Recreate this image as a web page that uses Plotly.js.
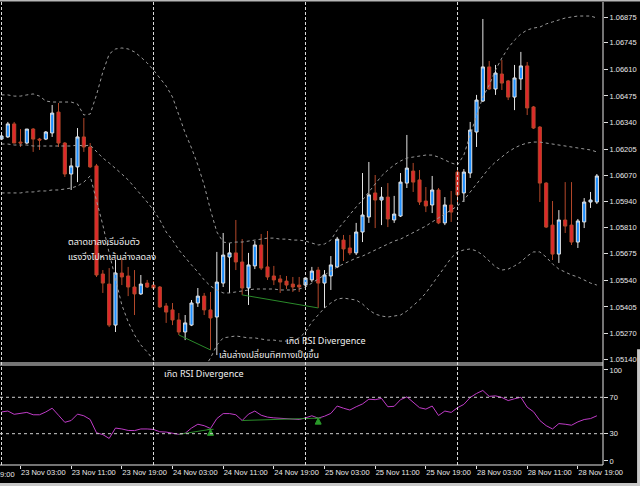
<!DOCTYPE html>
<html><head><meta charset="utf-8">
<script src="https://cdn.plot.ly/plotly-3.0.1.min.js"></script>
<style>html,body{margin:0;padding:0;background:#000;}#chart{width:640px;height:486px;}</style>
</head><body><div id="chart"></div>
<script>
// EURUSD-style H1 candles, 23 Nov 00:00 .. 28 Nov 22:00
const openP = [1.06256,1.06267,1.06333,1.06241,1.06236,1.06307,1.06256,1.06256,1.06287,1.06393,
1.06236,1.06079,1.06115,1.06267,1.06216,1.06120,1.05572,1.05521,1.05313,1.05577,
1.05562,1.05506,1.05471,1.05526,1.05516,1.05506,1.05410,1.05390,1.05339,1.05278,
1.05313,1.05425,1.05460,1.05390,1.05354,1.05526,1.05658,1.05679,1.05633,1.05501,
1.05613,1.05719,1.05608,1.05562,1.05547,1.05536,1.05521,1.05516,1.05516,1.05542,
1.05592,1.05526,1.05562,1.05608,1.05744,1.05704,1.05679,1.05785,1.05861,1.05983,
1.05947,1.05962,1.05846,1.05866,1.06033,1.06094,1.06049,1.05942,1.05922,1.05998,
1.05831,1.05922,1.06089,1.05983,1.06084,1.06292,1.06449,1.06622,1.06510,1.06586,
1.06551,1.06469,1.06561,1.06627,1.06419,1.06317,1.06033,1.05820,1.05673,1.05846,
1.05820,1.05734,1.05836,1.05937,1.05937];
const highP = [1.06282,1.06343,1.06343,1.06307,1.06307,1.06312,1.06262,1.06297,1.06429,1.06439,
1.06241,1.06160,1.06312,1.06363,1.06236,1.06130,1.05592,1.05602,1.05643,1.05653,
1.05608,1.05592,1.05567,1.05542,1.05536,1.05511,1.05425,1.05425,1.05374,1.05364,
1.05440,1.05501,1.05476,1.05481,1.05684,1.05780,1.05729,1.05846,1.05749,1.05679,
1.05739,1.05775,1.05790,1.05613,1.05567,1.05562,1.05557,1.05557,1.05557,1.05608,
1.05608,1.05592,1.05663,1.05760,1.05770,1.05770,1.05831,1.06084,1.06140,1.06074,
1.06013,1.06033,1.05968,1.06084,1.06277,1.06135,1.06099,1.06013,1.06069,1.06008,
1.05962,1.05993,1.06104,1.06104,1.06343,1.06480,1.06865,1.06652,1.06632,1.06657,
1.06556,1.06632,1.06698,1.06647,1.06424,1.06322,1.06038,1.05942,1.05896,1.06038,
1.06038,1.05851,1.05957,1.05988,1.06079];
const lowP = [1.06251,1.06262,1.06236,1.06216,1.06231,1.06191,1.06201,1.06251,1.06267,1.06216,
1.06064,1.05998,1.06038,1.06191,1.06109,1.05557,1.05476,1.05303,1.05278,1.05516,
1.05460,1.05364,1.05466,1.05501,1.05491,1.05400,1.05324,1.05313,1.05263,1.05237,
1.05308,1.05405,1.05364,1.05187,1.05161,1.05506,1.05476,1.05592,1.05466,1.05415,
1.05597,1.05592,1.05542,1.05516,1.05476,1.05496,1.05481,1.05481,1.05506,1.05531,
1.05400,1.05400,1.05491,1.05602,1.05638,1.05668,1.05668,1.05734,1.05831,1.05805,
1.05820,1.05810,1.05831,1.05861,1.06008,1.05988,1.05922,1.05886,1.05881,1.05825,
1.05820,1.05836,1.05937,1.05937,1.06059,1.06216,1.06444,1.06505,1.06480,1.06505,
1.06454,1.06403,1.06505,1.06378,1.06307,1.05937,1.05805,1.05643,1.05628,1.05780,
1.05719,1.05704,1.05805,1.05907,1.05927];
const closeP = [1.06272,1.06333,1.06236,1.06236,1.06307,1.06256,1.06251,1.06292,1.06388,1.06236,
1.06079,1.06120,1.06267,1.06216,1.06115,1.05567,1.05526,1.05313,1.05577,1.05557,
1.05506,1.05471,1.05521,1.05506,1.05501,1.05405,1.05379,1.05339,1.05278,1.05324,
1.05425,1.05460,1.05390,1.05349,1.05531,1.05668,1.05679,1.05633,1.05501,1.05618,
1.05719,1.05602,1.05557,1.05542,1.05531,1.05516,1.05506,1.05506,1.05552,1.05587,
1.05526,1.05567,1.05618,1.05749,1.05699,1.05679,1.05785,1.05871,1.05973,1.05947,
1.05962,1.05851,1.05876,1.06038,1.06109,1.06038,1.05937,1.05917,1.05998,1.05831,
1.05922,1.05886,1.05973,1.06089,1.06302,1.06454,1.06622,1.06510,1.06591,1.06540,
1.06469,1.06566,1.06627,1.06414,1.06312,1.06033,1.05810,1.05673,1.05846,1.05815,
1.05734,1.05841,1.05937,1.05947,1.06069];

// Bollinger bands
const bbUpper = [1.06480,1.06480,1.06474,1.06474,1.06480,1.06485,1.06474,1.06449,1.06444,1.06444,
1.06444,1.06444,1.06434,1.06378,1.06383,1.06480,1.06596,1.06687,1.06713,1.06718,
1.06713,1.06698,1.06672,1.06642,1.06606,1.06566,1.06525,1.06469,1.06378,1.06287,
1.06211,1.06125,1.06023,1.05896,1.05785,1.05734,1.05729,1.05734,1.05734,1.05739,
1.05744,1.05749,1.05754,1.05754,1.05749,1.05749,1.05744,1.05744,1.05739,1.05729,
1.05719,1.05724,1.05744,1.05795,1.05836,1.05876,1.05912,1.05947,1.05988,1.06033,
1.06069,1.06099,1.06125,1.06145,1.06160,1.06165,1.06170,1.06175,1.06175,1.06165,
1.06150,1.06135,1.06125,1.06175,1.06277,1.06378,1.06469,1.06530,1.06606,1.06667,
1.06718,1.06758,1.06789,1.06809,1.06819,1.06824,1.06840,1.06850,1.06860,1.06870,
1.06875,1.06880,1.06880,1.06880,1.06870];
const bbMiddle = [1.06231,1.06231,1.06226,1.06226,1.06226,1.06221,1.06221,1.06221,1.06221,1.06221,
1.06221,1.06221,1.06226,1.06221,1.06226,1.06191,1.06160,1.06135,1.06109,1.06079,
1.06049,1.06013,1.05973,1.05937,1.05896,1.05846,1.05785,1.05744,1.05694,1.05653,
1.05618,1.05582,1.05542,1.05511,1.05491,1.05476,1.05476,1.05481,1.05486,1.05491,
1.05496,1.05496,1.05496,1.05496,1.05491,1.05491,1.05491,1.05496,1.05506,1.05526,
1.05547,1.05567,1.05587,1.05608,1.05623,1.05638,1.05653,1.05663,1.05679,1.05694,
1.05709,1.05724,1.05739,1.05749,1.05765,1.05785,1.05800,1.05815,1.05836,1.05856,
1.05876,1.05896,1.05917,1.05947,1.05988,1.06028,1.06069,1.06109,1.06140,1.06165,
1.06191,1.06211,1.06226,1.06236,1.06241,1.06241,1.06236,1.06231,1.06226,1.06221,
1.06216,1.06211,1.06206,1.06201,1.06191];
const bbLower = [1.05983,1.05983,1.05983,1.05983,1.05988,1.05988,1.05993,1.05993,1.05998,1.05998,
1.06003,1.06008,1.06018,1.06038,1.06069,1.05947,1.05820,1.05679,1.05542,1.05415,
1.05329,1.05263,1.05212,1.05177,1.05136,1.05085,1.05045,1.05019,1.05009,1.05019,
1.05035,1.05060,1.05095,1.05146,1.05212,1.05248,1.05253,1.05258,1.05253,1.05248,
1.05248,1.05242,1.05237,1.05237,1.05232,1.05232,1.05237,1.05248,1.05278,1.05329,
1.05364,1.05400,1.05425,1.05445,1.05450,1.05445,1.05440,1.05420,1.05390,1.05369,
1.05359,1.05354,1.05359,1.05364,1.05384,1.05410,1.05440,1.05476,1.05521,1.05562,
1.05613,1.05653,1.05684,1.05694,1.05699,1.05689,1.05668,1.05638,1.05608,1.05592,
1.05597,1.05613,1.05633,1.05663,1.05684,1.05684,1.05658,1.05623,1.05597,1.05582,
1.05567,1.05557,1.05542,1.05526,1.05516];

// RSI values
const rsi = [53.9,54.9,51.3,52.3,53.4,50.8,50.8,53.9,58.0,50.3,
42.5,44.5,51.5,49.7,45.6,31.0,29.0,24.8,36.2,35.2,
33.6,33.4,35.2,35.2,34.7,32.1,31.8,30.5,29.3,30.5,
36.2,40.4,38.8,35.7,46.6,52.1,52.1,50.8,44.5,51.5,
54.9,50.3,48.2,47.4,46.8,46.3,45.9,45.6,47.4,49.7,
47.1,49.2,52.3,60.4,58.0,56.0,59.6,62.7,67.9,67.4,
68.8,59.6,60.1,67.4,70.5,64.8,58.6,57.0,60.4,50.0,
54.9,53.4,58.6,62.2,69.8,74.2,77.5,71.0,71.6,69.8,
66.4,68.4,70.0,59.1,54.1,44.5,38.8,35.2,41.1,40.4,
39.3,43.0,45.6,46.6,49.7];

// Divergence lines
const divAIdx = [28, 33], divAPrice = [1.05263, 1.05187], divARsi = [29.3, 34.8];
const divBIdx = [38, 50], divBPrice = [1.05466, 1.05400], divBRsi = [44.5, 47.1];

// Axis labels
const tickIdx = [3, 11, 19, 27, 35, 43, 51, 59, 67, 75, 83, 91];
const tickLabels = ['23 Nov 03:00','23 Nov 11:00','23 Nov 19:00','24 Nov 03:00','24 Nov 11:00','24 Nov 19:00',
  '25 Nov 03:00','25 Nov 11:00','25 Nov 19:00','28 Nov 03:00','28 Nov 11:00','28 Nov 19:00'];
const priceTicks = [1.06875,1.06745,1.06610,1.06475,1.06340,1.06205,1.06070,1.05940,1.05810,1.05675,1.05540,1.05405,1.05270,1.05140];
const rsiTicks = [0, 30, 70, 100];
const daySepIdx = [0, 24, 48, 72];

const idx = openP.map((_, i) => i);
const bandStyle = {color:'#9a9a9a', width:1, dash:'3px,3px'};

const traces = [
  {type:'scatter', mode:'lines', x:idx, y:bbUpper, line:bandStyle, hoverinfo:'skip', xaxis:'x', yaxis:'y'},
  {type:'scatter', mode:'lines', x:idx, y:bbMiddle, line:bandStyle, hoverinfo:'skip', xaxis:'x', yaxis:'y'},
  {type:'scatter', mode:'lines', x:idx, y:bbLower, line:bandStyle, hoverinfo:'skip', xaxis:'x', yaxis:'y'},
  {type:'candlestick', x:idx, open:openP, high:highP, low:lowP, close:closeP, xaxis:'x', yaxis:'y',
    increasing:{line:{color:'#e4e4e4', width:1}, fillcolor:'#1e8fff'},
    decreasing:{line:{color:'#b4482a', width:1}, fillcolor:'#e2252b'},
    whiskerwidth:0, hoverinfo:'skip'},
  {type:'scatter', mode:'lines', x:divAIdx, y:divAPrice, line:{color:'#2a8a2a', width:1}, hoverinfo:'skip', xaxis:'x', yaxis:'y'},
  {type:'scatter', mode:'lines', x:divBIdx, y:divBPrice, line:{color:'#2a8a2a', width:1}, hoverinfo:'skip', xaxis:'x', yaxis:'y'},
  {type:'scatter', mode:'lines', x:idx, y:rsi, line:{color:'#c03cc8', width:1}, hoverinfo:'skip', xaxis:'x', yaxis:'y2'},
  {type:'scatter', mode:'lines', x:divAIdx, y:divARsi, line:{color:'#2a8a2a', width:1}, hoverinfo:'skip', xaxis:'x', yaxis:'y2'},
  {type:'scatter', mode:'lines', x:divBIdx, y:divBRsi, line:{color:'#2a8a2a', width:1}, hoverinfo:'skip', xaxis:'x', yaxis:'y2'},
  {type:'scatter', mode:'markers', x:[divAIdx[1], divBIdx[1]], y:[divARsi[1], divBRsi[1]],
    marker:{symbol:'arrow-bar-up', size:6, color:'#2a9a2a', line:{color:'#2a9a2a', width:1}}, hoverinfo:'skip', xaxis:'x', yaxis:'y2'}
];

const axisFont = {family:"'Liberation Sans',Arial,sans-serif", size:7.5, color:'#e8e8e8'};
const thaiFont = {family:"Tahoma,'Noto Sans Thai','Noto Sans Thai UI','Garuda','Loma','Waree','Liberation Sans',sans-serif", size:9, color:'#f0f0f0'};

const shapes = [];
daySepIdx.forEach(i => shapes.push({type:'line', xref:'x', yref:'paper', x0:i, x1:i, y0:0, y1:1,
  line:{color:'#dcdcdc', width:1, dash:'3px,2px'}}));
[30, 70].forEach(v => shapes.push({type:'line', xref:'paper', yref:'y2', x0:0, x1:1, y0:v, y1:v,
  line:{color:'#d0d0d0', width:1, dash:'3px,3px'}}));
// panel frames
shapes.push({type:'line', xref:'paper', yref:'paper', x0:1, x1:1, y0:0, y1:1, line:{color:'#e8e8e8', width:1}});
shapes.push({type:'line', xref:'paper', yref:'paper', x0:0, x1:1, y0:0, y1:0, line:{color:'#e8e8e8', width:1}});
shapes.push({type:'line', xref:'paper', yref:'paper', x0:0, x1:1, y0:0.2203, y1:0.2203, line:{color:'#e8e8e8', width:1}});
shapes.push({type:'line', xref:'paper', yref:'paper', x0:0, x1:1, y0:0.2160, y1:0.2160, line:{color:'#e8e8e8', width:1}});
shapes.push({type:'line', xref:'paper', yref:'paper', x0:0, x1:1.0614, y0:1.003, y1:1.003, line:{color:'#b8b8b8', width:2}});
shapes.push({type:'rect', xref:'paper', yref:'paper', x0:0, x1:1.0614, y0:-0.0454, y1:-0.0390, line:{width:0}, fillcolor:'#c8c8c8'});
shapes.push({type:'rect', xref:'paper', yref:'paper', x0:1.0565, x1:1.0614, y0:-0.0454, y1:0.25, line:{width:0}, fillcolor:'#c8c8c8'});

const annotations = [
  {xref:'x', yref:'y', x:10.2, y:1.05734, xanchor:'left', yanchor:'middle', showarrow:false, text:'ตลาดขาลงเริ่มอิ่มตัว', font:thaiFont},
  {xref:'x', yref:'y', x:10.2, y:1.05658, xanchor:'left', yanchor:'middle', showarrow:false, text:'แรงวิ่งไปหาเส้นล่างลดลง', font:thaiFont},
  {xref:'x', yref:'y', x:44.6, y:1.05232, xanchor:'left', yanchor:'middle', showarrow:false, text:'เกิด RSI Divergence', font:thaiFont},
  {xref:'x', yref:'y', x:34.0, y:1.05161, xanchor:'left', yanchor:'middle', showarrow:false, text:'เส้นล่างเปลี่ยนทิศทางเป็นขึ้น', font:thaiFont},
  {xref:'x', yref:'y2', x:25.3, y:95.6, xanchor:'left', yanchor:'middle', showarrow:false, text:'เกิด RSI Divergence', font:thaiFont},
  {xref:'paper', yref:'paper', x:0.029, y:-0.0205, xanchor:'right', yanchor:'middle', showarrow:false, text:'22 Nov 19:00', font:axisFont}
];

const layout = {
  width:640, height:486, paper_bgcolor:'#000', plot_bgcolor:'#000',
  margin:{l:0, r:37, t:2, b:21},
  showlegend:false, font:axisFont, dragmode:false,
  xaxis:{range:[-0.237, 94.97], anchor:'y2', tickvals:tickIdx, ticktext:tickLabels, ticks:'outside', ticklen:3,
    tickcolor:'#e0e0e0', ticklabelposition:'outside right', tickangle:0, showgrid:false, zeroline:false, showline:false,
    rangeslider:{visible:false}, fixedrange:true, tickfont:axisFont},
  yaxis:{domain:[0.2203, 1], range:[1.051208, 1.069511], side:'right', tickvals:priceTicks,
    ticktext:priceTicks.map(v => v.toFixed(5)), ticks:'outside', ticklen:4, tickcolor:'#e0e0e0',
    showgrid:false, zeroline:false, showline:false, fixedrange:true, tickfont:axisFont},
  yaxis2:{domain:[0, 0.216], range:[-4.4, 105.5], side:'right', tickvals:rsiTicks, ticktext:rsiTicks.map(String),
    ticks:'outside', ticklen:4, tickcolor:'#e0e0e0', showgrid:false, zeroline:false, showline:false, fixedrange:true, tickfont:axisFont},
  shapes:shapes, annotations:annotations
};

Plotly.newPlot('chart', traces, layout, {staticPlot:true, displayModeBar:false});
</script></body></html>
